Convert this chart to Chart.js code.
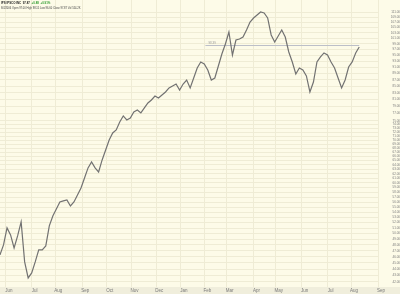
<!DOCTYPE html>
<html lang="en">
<head>
<meta charset="UTF-8">
<title>IPS - IPSCO Inc daily</title>
<script src="https://cdn.jsdelivr.net/npm/chart.js"></script>
<style>
    body {
        margin: 0;
        background: #fdfbe8;
    }

    .wrap {
        position: relative;
        width: 400px;
        height: 294px;
    }

    .head {
        position: absolute;
        left: 1px;
        white-space: nowrap;
        transform-origin: 0 0;
        font-family: "Liberation Sans", Arial, sans-serif;
        font-size: 8px;
        line-height: 8px;
    }

    .l1 { top: 2px; transform: scale(0.36); color: #222; font-weight: bold; }
    .l2 { top: 7px; transform: scale(0.33); color: #444; }
    .up { color: #2e9b2e; }
</style>
</head>
<body>
<div class="wrap">
    <canvas id="chart" width="400" height="294"></canvas>
    <div class="head l1">IPS IPSCO INC&nbsp; 97.87&nbsp; <span class="up">+0.88&nbsp; +0.91%</span></div>
    <div class="head l2">8/4/2006 Open 97.00 High 98.15 Low 96.60 Close 97.87 Vol 554.2K</div>
</div>

<script>
    // closes every 3 trading days, first one 5 days before 1 Jun 2005
    const firstDay = -5;
    const dayStep = 3;
    const closes = [
        46.30, 48.00, 51.03, 49.76, 47.48, 49.58, 52.14, 45.15, 42.62, 43.39,
        45.15, 47.14, 47.14, 47.82, 51.40, 53.27, 54.63, 56.02, 56.23, 56.43,
        55.22, 56.02, 57.46, 58.92, 61.08, 63.33, 64.70, 63.33, 62.42, 65.17,
        67.56, 70.03, 71.82, 72.60, 74.71, 76.35, 75.26, 75.80, 77.46, 78.02,
        77.18, 78.58, 80.00, 80.87, 82.04, 81.45, 82.34, 83.23, 84.44, 85.05,
        85.66, 83.83, 85.66, 86.90, 84.44, 87.53, 90.74, 92.73, 92.06, 90.09,
        86.90, 87.53, 91.40, 95.44, 98.93, 103.30, 95.09, 100.36, 100.72, 101.45,
        104.04, 107.07, 108.63, 109.81, 111.00, 110.60, 108.63, 102.19, 99.65, 101.81,
        104.04, 101.45, 96.13, 92.73, 88.80, 90.74, 90.09, 88.17, 83.23, 86.28,
        92.73, 94.41, 95.78, 95.09, 92.73, 90.74, 87.53, 84.44, 86.90, 91.06,
        92.73, 95.78, 97.87
    ];

    // month labels and the trading-day index of each month's first session
    const monthLabels = ['Jun', 'Jul', 'Aug', 'Sep', 'Oct', 'Nov', 'Dec', 'Jan',
                         'Feb', 'Mar', 'Apr', 'May', 'Jun', 'Jul', 'Aug', 'Sep'];
    const monthStarts = [0, 22, 42, 65, 86, 107, 128, 149, 169, 188, 211, 230, 252, 274, 294, 317];

    const priceTicks = [
        111, 109, 107, 105, 103, 101, 99, 97, 95, 93, 91, 89, 87, 85, 83, 81, 79, 77, 75,
        74, 73, 72, 71, 70, 69, 68, 67, 66, 65, 64, 63, 62, 61, 60, 59, 58, 57, 56, 55,
        54, 53, 52, 51, 50, 49, 48, 47, 46, 45, 44, 43, 42
    ];

    // horizontal trend line drawn on the chart
    const trendLevel = 98.39;
    const trendFrom = 170;
    const trendTo = 301;

    const points = closes.map((v, i) => ({ x: firstDay + i * dayStep, y: v }));

    const gridColor = '#efecd5';

    const bgPlugin = {
        id: 'bg',
        beforeDraw(chart) {
            const { ctx, chartArea, width, height } = chart;
            ctx.save();
            ctx.fillStyle = '#fdfbe8';
            ctx.fillRect(0, 0, width, height);
            ctx.fillStyle = '#f0eedc';
            ctx.fillRect(0, chartArea.bottom, width, height - chartArea.bottom);
            ctx.restore();
        },
        afterDatasetsDraw(chart) {
            const { ctx, scales } = chart;
            ctx.save();
            ctx.font = '3px "Liberation Sans", Arial, sans-serif';
            ctx.fillStyle = '#a0a0a0';
            ctx.textBaseline = 'bottom';
            ctx.fillText(trendLevel.toFixed(2),
                scales.x.getPixelForValue(trendFrom) + 3,
                scales.y.getPixelForValue(trendLevel) - 0.5);
            ctx.restore();
        }
    };

    new Chart(document.getElementById('chart'), {
        type: 'line',
        data: {
            datasets: [{
                data: points,
                borderColor: '#727272',
                borderWidth: 1.2,
                pointRadius: 0,
                tension: 0
            }, {
                data: [{ x: trendFrom, y: trendLevel }, { x: trendTo, y: trendLevel }],
                borderColor: '#bcbfc8',
                borderWidth: 1,
                pointRadius: 0
            }]
        },
        options: {
            responsive: false,
            animation: false,
            events: [],
            layout: { padding: 0 },
            plugins: {
                legend: { display: false },
                tooltip: { enabled: false }
            },
            scales: {
                x: {
                    type: 'linear',
                    min: -5,
                    max: 317,
                    afterBuildTicks: scale => {
                        scale.ticks = monthStarts.map(v => ({ value: v }));
                    },
                    afterFit: scale => {
                        scale.height = 7;
                        scale.paddingLeft = 0;
                        scale.paddingRight = 0;
                    },
                    grid: { color: gridColor, drawTicks: false },
                    border: { display: false },
                    ticks: {
                        autoSkip: false,
                        maxRotation: 0,
                        padding: 1,
                        labelOffset: 3,
                        color: '#7a7a7a',
                        font: { family: '"Liberation Sans", Arial, sans-serif', size: 4.5 },
                        callback: (v, i) => monthLabels[i]
                    }
                },
                y: {
                    type: 'logarithmic',
                    position: 'right',
                    min: 41.25,
                    max: 115.9,
                    afterBuildTicks: scale => {
                        scale.ticks = priceTicks.map(v => ({ value: v }));
                    },
                    afterFit: scale => {
                        scale.width = 22;
                        scale.paddingTop = 0;
                        scale.paddingBottom = 0;
                    },
                    grid: { color: gridColor, drawTicks: false },
                    border: { display: false },
                    ticks: {
                        autoSkip: false,
                        crossAlign: 'far',
                        padding: 1,
                        color: '#7a7a7a',
                        font: { family: '"Liberation Sans", Arial, sans-serif', size: 3 },
                        callback: v => v.toFixed(2)
                    }
                }
            }
        },
        plugins: [bgPlugin]
    });
</script>
</body>
</html>
